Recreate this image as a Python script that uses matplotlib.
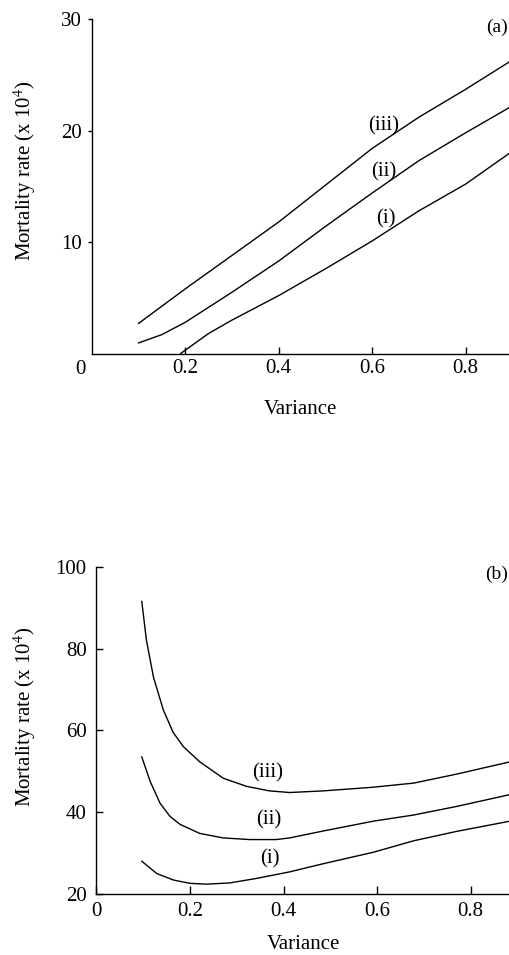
import numpy as np
import matplotlib.pyplot as plt

plt.rcParams['font.family'] = ['Liberation Serif', 'DejaVu Serif']
plt.rcParams['mathtext.fontset'] = 'stix'

# panel (a): mortality rate (x 10^4) vs variance
a_var_iii = [0.10, 0.20, 0.30, 0.40, 0.50, 0.60, 0.70, 0.80, 0.895]
a_iii = [2.7, 5.8, 8.8, 11.8, 15.1, 18.4, 21.2, 23.7, 26.2]
a_var_ii = [0.10, 0.15, 0.20, 0.30, 0.40, 0.50, 0.60, 0.70, 0.80, 0.895]
a_ii = [0.95, 1.7, 2.8, 5.5, 8.3, 11.4, 14.4, 17.3, 19.8, 22.1]
a_var_i = [0.19, 0.25, 0.30, 0.40, 0.50, 0.60, 0.70, 0.80, 0.895]
a_i = [0.0, 1.8, 3.0, 5.2, 7.6, 10.1, 12.8, 15.2, 18.0]

# panel (b)
b_var_iii = [0.097, 0.107, 0.122, 0.143, 0.164, 0.186, 0.221, 0.271, 0.321, 0.370,
             0.413, 0.485, 0.592, 0.678, 0.770, 0.884]
b_iii = [91.5, 82.0, 73.0, 65.0, 59.5, 56.0, 52.3, 48.3, 46.3, 45.2,
         44.8, 45.2, 46.1, 47.1, 49.3, 52.3]
b_var_ii = [0.097, 0.115, 0.136, 0.157, 0.179, 0.221, 0.271, 0.328, 0.384, 0.413,
            0.485, 0.592, 0.678, 0.770, 0.884]
b_ii = [53.5, 47.5, 42.2, 39.0, 37.0, 34.8, 33.7, 33.3, 33.3, 33.7,
        35.4, 37.8, 39.3, 41.4, 44.3]
b_var_i = [0.097, 0.129, 0.165, 0.200, 0.235, 0.285, 0.342, 0.413, 0.485, 0.592,
           0.678, 0.770, 0.884]
b_i = [28.0, 25.0, 23.4, 22.6, 22.4, 22.7, 23.8, 25.4, 27.4, 30.2,
       33.0, 35.3, 37.8]

fs = 15

fig = plt.figure(figsize=(5.1, 9.55), dpi=100)
ax1 = fig.add_axes([0.180, 0.6298, 0.820, 0.3502])
ax2 = fig.add_axes([0.189, 0.0639, 0.811, 0.3427])

lw = 1.0
ax1.plot(a_var_iii, a_iii, color='black', lw=lw)
ax1.plot(a_var_ii, a_ii, color='black', lw=lw)
ax1.plot(a_var_i, a_i, color='black', lw=lw)
ax1.set_xlim(0, 0.895)
ax1.set_ylim(0, 30)
ax1.set_xticks([0.2, 0.4, 0.6, 0.8])
ax1.set_xticklabels(['0.2', '0.4', '0.6', '0.8'])
ax1.set_yticks([10, 20, 30])
ax1.text(-0.025, -0.6, '0', ha='center', va='top', fontsize=fs)
ax1.text(0.625, 20.4, '(iii)', ha='center', va='center', fontsize=fs)
ax1.text(0.625, 16.3, '(ii)', ha='center', va='center', fontsize=fs)
ax1.text(0.63, 12.1, '(i)', ha='center', va='center', fontsize=fs)
ax1.text(0.868, 29.3, '(a)', ha='center', va='center', fontsize=14)

ax2.plot(b_var_iii, b_iii, color='black', lw=lw)
ax2.plot(b_var_ii, b_ii, color='black', lw=lw)
ax2.plot(b_var_i, b_i, color='black', lw=lw)
ax2.set_xlim(0, 0.884)
ax2.set_ylim(20, 100)
ax2.set_xticks([0, 0.2, 0.4, 0.6, 0.8])
ax2.set_xticklabels(['0', '0.2', '0.4', '0.6', '0.8'])
ax2.set_yticks([20, 40, 60, 80, 100])
ax2.text(0.367, 49.5, '(iii)', ha='center', va='center', fontsize=fs)
ax2.text(0.368, 38.0, '(ii)', ha='center', va='center', fontsize=fs)
ax2.text(0.370, 28.6, '(i)', ha='center', va='center', fontsize=fs)
ax2.text(0.855, 98.1, '(b)', ha='center', va='center', fontsize=14)

for ax in (ax1, ax2):
    ax.spines['top'].set_visible(False)
    ax.spines['right'].set_visible(False)
    ax.spines['left'].set_linewidth(1.0)
    ax.spines['bottom'].set_linewidth(1.0)
    ax.tick_params(axis='x', direction='in', length=5, width=1.0, pad=4, labelsize=fs)
    ax.tick_params(axis='y', direction='out', length=3, width=1.0, pad=4, labelsize=fs)
    ax.set_xlabel('Variance', fontsize=fs)
    ax.set_ylabel('Mortality rate (x 10$^{4}$)', fontsize=fs)

ax2.tick_params(axis='y', direction='in', length=5, pad=7)
ax2.tick_params(axis='x', length=6, pad=6)

ax1.xaxis.set_label_coords(0.5, -0.14)
ax2.xaxis.set_label_coords(0.5, -0.125)
ax1.yaxis.set_label_coords(-0.128, 0.546)
ax2.yaxis.set_label_coords(-0.141, 0.541)

fig.savefig('out.png', dpi=100)
